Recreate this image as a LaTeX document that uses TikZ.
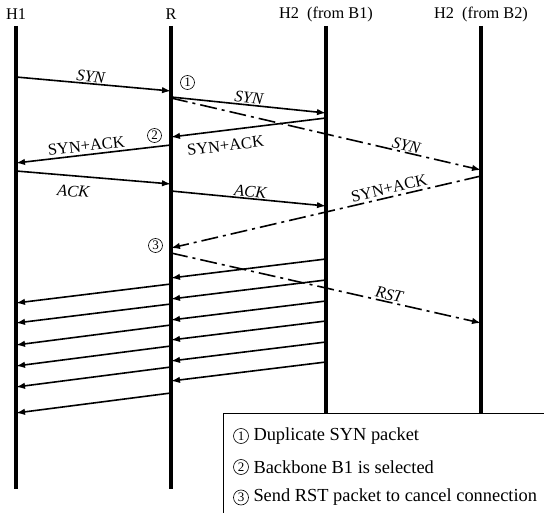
\documentclass[tikz,border=0pt]{standalone}
\usepackage{fontspec}
\setmainfont{Liberation Serif}
\usetikzlibrary{arrows.meta,positioning}

\tikzset{
  life/.style={line width=3.7pt},
  msg/.style={line width=1.6pt, -{Latex[length=9pt,width=6.5pt]}},
  dup/.style={msg, dash pattern=on 17pt off 5pt on 3pt off 5pt},
  lbl/.style={font=\fontsize{16.5}{18}\selectfont, sloped, inner sep=1pt},
  numcirc/.style={circle, draw, line width=0.6pt, inner sep=0pt, minimum size=14pt, font=\fontsize{13}{13}\selectfont},
  legtext/.style={font=\fontsize{18.4}{20}\selectfont, inner sep=0pt, anchor=west},
}

\begin{document}
\begin{tikzpicture}[x=1pt,y=-1pt]
  \useasboundingbox (0,0) rectangle (544,513);
  \node[font=\fontsize{16.3}{18}\selectfont] (h1) at (16,14) {H1};
  \node[font=\fontsize{16.3}{18}\selectfont] (r) at (171,14) {R};
  \node[font=\fontsize{16.3}{18}\selectfont] (hb1) at (326,14) {H2~~(from B1)};
  \node[font=\fontsize{16.3}{18}\selectfont] (hb2) at (481,14) {H2~~(from B2)};
  \draw[life] (h1 |- 0,26) -- (h1 |- 0,489);
  \draw[life] (r |- 0,26) -- (r |- 0,489);
  \draw[life] (hb1 |- 0,26) -- (hb1 |- 0,413);
  \draw[life] (hb2 |- 0,26) -- (hb2 |- 0,413);
  % handshake
  \draw[msg] (h1 |- 0,77) -- node[lbl,above,pos=.48]{\textit{SYN}} (r |- 0,91);
  \draw[msg] (r |- 0,97) -- node[lbl,above,pos=.5]{\textit{SYN}} (hb1 |- 0,113);
  \draw[dup] (r |- 0,98) -- node[lbl,above,pos=.755]{\textit{SYN}} (hb2 |- 0,170);
  \draw[msg] (hb1 |- 0,118) -- node[lbl,below=8pt,pos=.66]{SYN+ACK} (r |- 0,137);
  \draw[msg] (r |- 0,145) -- node[lbl,above=1.5pt,pos=.54]{SYN+ACK} (h1 |- 0,163);
  \draw[msg] (h1 |- 0,171) -- node[lbl,below=8pt,pos=.38]{\textit{ACK}} (r |- 0,184);
  \draw[msg] (r |- 0,191) -- node[lbl,above,pos=.51]{\textit{ACK}} (hb1 |- 0,206);
  \draw[dup] (hb2 |- 0,176) -- node[lbl,above=1.5pt,pos=.29]{SYN+ACK} (r |- 0,248);
  \draw[dup] (r |- 0,253) -- node[lbl,above,pos=.70]{\textit{RST}} (hb2 |- 0,323);
  % data stream
  \foreach \s in {259,280,301,321,342,362}
    \draw[msg] (hb1 |- 0,\s) -- (r |- 0,\s+19);
  \foreach \s/\e in {284/303,304/323,325/345,346/366,367/387,393/413}
    \draw[msg] (r |- 0,\s) -- (h1 |- 0,\e);
  \node[numcirc] (c1) at (187.5,82.5) {1};
  \node[numcirc] (c2) at (154.5,135.5) {2};
  \node[numcirc] (c3) at (155.5,245.5) {3};
  % legend
  \draw[line width=0.8pt, fill=white] (223,413) rectangle (560,530);
  \node[numcirc, minimum size=15pt] (l1) at (241,436) {1};
  \node[numcirc, minimum size=15pt] (l2) at (241,467) {2};
  \node[numcirc, minimum size=15pt] (l3) at (241,497.5) {3};
  \node[legtext, right=4.5pt of l1] (t1) {Duplicate SYN packet};
  \node[legtext, right=4.5pt of l2] (t2) {Backbone B1 is selected};
  \node[legtext, right=4.5pt of l3] (t3) {Send RST packet to cancel connection};
\end{tikzpicture}
\end{document}
